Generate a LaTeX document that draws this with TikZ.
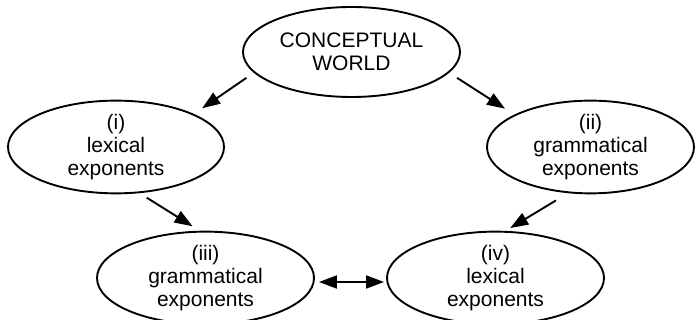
\documentclass[tikz,border=0pt]{standalone}
\usepackage{fontspec}
\setmainfont{Liberation Sans}
\usetikzlibrary{arrows.meta,shapes.geometric}

\begin{document}
\begin{tikzpicture}[x=1pt,y=1pt,line width=1.9pt,
  font=\fontsize{21}{23}\selectfont,
  >={Triangle[length=18pt,width=13pt]},
  expo/.style={draw,ellipse,inner sep=0pt,align=center,
    minimum width=217pt,minimum height=88pt}]
\useasboundingbox (0,0) rectangle (696,320);
\node[expo,minimum height=90pt] (world) at (351.5,268) {CONCEPTUAL\\WORLD};
\node[expo,minimum width=216pt] (lexA) at (116,173) {(i)\\lexical\\exponents};
\node[expo,minimum width=207pt] (gramA) at (590.5,173) {(ii)\\grammatical\\exponents};
\node[expo] (gramB) at (205.5,42) {(iii)\\grammatical\\exponents};
\node[expo] (lexB) at (495.5,42) {(iv)\\lexical\\exponents};
% arrows between the ellipses
\draw[->,shorten <=9pt,shorten >=10pt] (world.192) -- (lexA.23);
\draw[->,shorten <=9.5pt,shorten >=11pt] (world.348.6) -- (gramA.157.4);
\draw[->,shorten <=8.5pt,shorten >=8.5pt] (lexA.297) -- (gramB.97);
\draw[->,shorten <=14pt,shorten >=5.5pt] (gramA.244) -- (lexB.78.6);
\draw[<->,shorten <=4pt,shorten >=2pt] ([yshift=-4pt]gramB.east) -- ([yshift=-4pt]lexB.west);
\end{tikzpicture}
\end{document}
